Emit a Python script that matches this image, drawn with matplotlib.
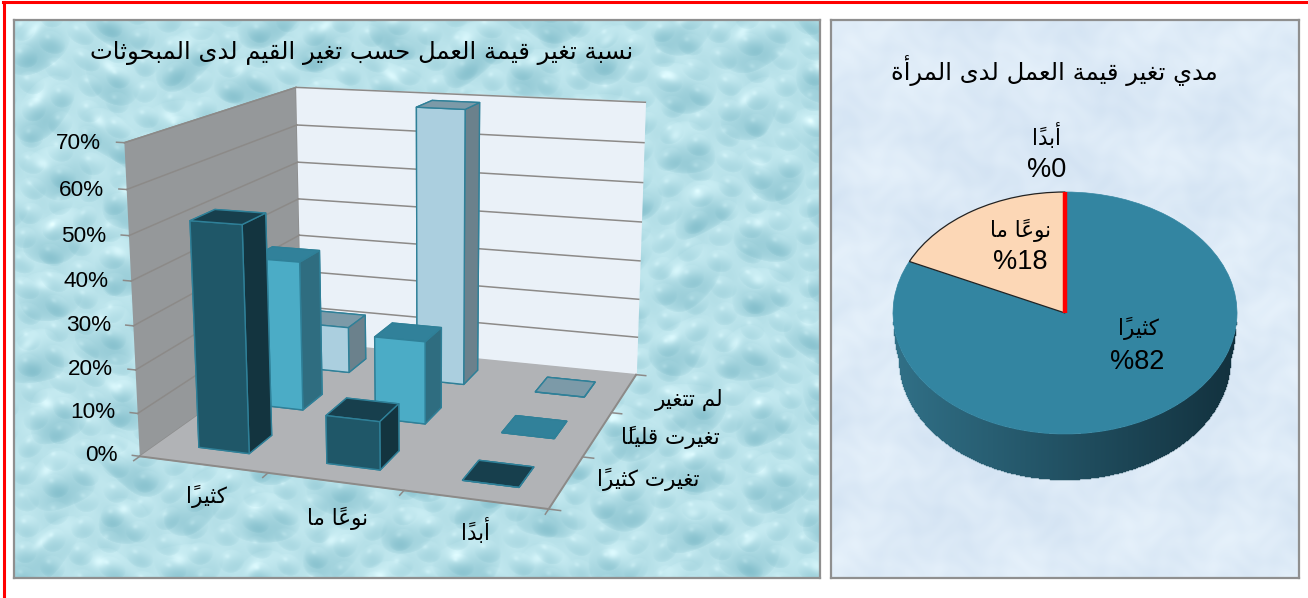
import numpy as np
import matplotlib
matplotlib.use('Agg')
import matplotlib.pyplot as plt
from matplotlib.lines import Line2D
from mpl_toolkits.mplot3d import proj3d

W, H = 1308, 598
LEFT_TITLE = "نسبة تغير قيمة العمل حسب تغير القيم لدى المبحوثات"
RIGHT_TITLE = "مدي تغير قيمة العمل لدى المرأة"
categories = ["كثيراً", "نوعاً ما", "أبداً"]
series_names = ["تغيرت كثيراً", "تغيرت قليلاً", "لم تتغير"]
changed_much = [52, 11, 0]
changed_little = [36.5, 20, 0]
unchanged = [12, 69.5, 0]
y_ticks = [0, 10, 20, 30, 40, 50, 60, 70]
pie_values = [82, 18, 0]
pie_labels = ["كثيراً", "نوعاً ما", "أبداً"]

FORMS = {'ء':(0xFE80,),'آ':(0xFE81,0xFE82),'أ':(0xFE83,0xFE84),'ؤ':(0xFE85,0xFE86),'إ':(0xFE87,0xFE88),'ا':(0xFE8D,0xFE8E),'د':(0xFEA9,0xFEAA),'ذ':(0xFEAB,0xFEAC),'ر':(0xFEAD,0xFEAE),'ز':(0xFEAF,0xFEB0),'و':(0xFEED,0xFEEE),'ة':(0xFE93,0xFE94),'ى':(0xFEEF,0xFEF0),
'ب':(0xFE8F,0xFE90,0xFE91,0xFE92),'ت':(0xFE95,0xFE96,0xFE97,0xFE98),'ث':(0xFE99,0xFE9A,0xFE9B,0xFE9C),'ج':(0xFE9D,0xFE9E,0xFE9F,0xFEA0),'ح':(0xFEA1,0xFEA2,0xFEA3,0xFEA4),'خ':(0xFEA5,0xFEA6,0xFEA7,0xFEA8),'س':(0xFEB1,0xFEB2,0xFEB3,0xFEB4),'ش':(0xFEB5,0xFEB6,0xFEB7,0xFEB8),'ص':(0xFEB9,0xFEBA,0xFEBB,0xFEBC),'ض':(0xFEBD,0xFEBE,0xFEBF,0xFEC0),'ط':(0xFEC1,0xFEC2,0xFEC3,0xFEC4),'ظ':(0xFEC5,0xFEC6,0xFEC7,0xFEC8),'ع':(0xFEC9,0xFECA,0xFECB,0xFECC),'غ':(0xFECD,0xFECE,0xFECF,0xFED0),'ف':(0xFED1,0xFED2,0xFED3,0xFED4),'ق':(0xFED5,0xFED6,0xFED7,0xFED8),'ك':(0xFED9,0xFEDA,0xFEDB,0xFEDC),'ل':(0xFEDD,0xFEDE,0xFEDF,0xFEE0),'م':(0xFEE1,0xFEE2,0xFEE3,0xFEE4),'ن':(0xFEE5,0xFEE6,0xFEE7,0xFEE8),'ه':(0xFEE9,0xFEEA,0xFEEB,0xFEEC),'ي':(0xFEF1,0xFEF2,0xFEF3,0xFEF4)}
MARK = '\u064b'

def shape(text):
    """Join Arabic letters into presentation forms and lay them out left to right."""
    base, marked, k = [], set(), -1
    for c in text:
        if c == MARK:
            marked.add(k)
        else:
            base.append(c); k += 1
    out = []
    for i, c in enumerate(base):
        if c not in FORMS:
            out.append(c); continue
        prev = base[i-1] if i else ' '
        nxt = base[i+1] if i+1 < len(base) else ' '
        pj = prev in FORMS and len(FORMS[prev]) == 4
        nj = nxt in FORMS
        f = FORMS[c]
        if len(f) == 4:
            g = f[(2 if nj else 0) + (1 if pj else 0)]
        elif len(f) == 2:
            g = f[1 if pj else 0]
        else:
            g = f[0]
        out.append(chr(g) + (MARK if i in marked else ''))
    return ''.join(reversed(out))

AR = ['DejaVu Sans']
LAT = ['Liberation Sans', 'DejaVu Sans']

def drop_layer(xx, yy, sx, sy, phase):
    u = xx/sx + .16*np.sin(yy/41 + phase) + .10*np.sin(yy/17 + xx/53)
    v = yy/sy + .16*np.sin(xx/37 + phase) + .10*np.sin(xx/23 - yy/61)
    v = v + .5*np.floor(u)
    fu, fv = u % 1 - .5, v % 1 - .5
    r = np.sqrt(fu**2 + fv**2)
    drop = np.clip(1 - r/.44, 0, 1)**.5
    return drop*(-fv*1.5 - .25) + .35*np.exp(-((fu+.12)**2 + (fv+.2)**2)/.008)

def drops(w, h):
    """Procedural droplet pattern for the left panel."""
    yy, xx = np.mgrid[0:h, 0:w].astype(float)
    shade = drop_layer(xx, yy, 71, 63, 0.0) + .55*drop_layer(xx, yy, 29, 26, 1.7)
    shade += .04*np.sin(xx/9 + yy/13) + .03*np.sin(xx/5.3 - yy/7.1)
    base = np.array([.73, .89, .92])
    amp = np.array([.30, .20, .17])
    return np.clip(base + shade[..., None]*amp, 0, 1)

def paper(w, h):
    """Soft mottled pattern for the right panel."""
    yy, xx = np.mgrid[0:h, 0:w].astype(float)
    n = (np.sin(xx/31 + 2*np.sin(yy/47)) * np.sin(yy/23 + 2*np.sin(xx/59)) +
         .45*np.sin(xx/7.3 + 1.5*np.sin(yy/9.1)) * np.sin(yy/6.1 + 1.5*np.sin(xx/8.7)))
    base = np.array([.865, .918, .968])
    return np.clip(base + n[..., None]*np.array([.024, .018, .010]), 0, 1)

fig = plt.figure(figsize=(W/100, H/100), dpi=100, facecolor='white')

def px_rect(x0, y0, x1, y1):
    return [x0/W, 1 - y1/H, (x1-x0)/W, (y1-y0)/H]

def panel(x0, y0, x1, y1, img):
    a = fig.add_axes(px_rect(x0, y0, x1, y1), zorder=0)
    a.imshow(img, aspect='auto', interpolation='bilinear')
    a.set_xticks([]); a.set_yticks([])
    for s in a.spines.values():
        s.set_color('#8f8f8f'); s.set_linewidth(1.6)
    return a

panel(14, 20, 820, 578, drops(806, 558))
panel(831, 20, 1299, 578, paper(468, 558))

def ftext(x, y, s, **kw):
    fig.text(x/W, 1 - y/H, s, ha='center', va='center', color='black', zorder=20, **kw)

ftext(362, 53, shape(LEFT_TITLE), fontsize=17.5, family=AR)
ftext(1054, 70, shape(RIGHT_TITLE), fontsize=17.5, family=AR)

# --- 3D column chart
L = 617.5
ax = fig.add_axes([88.49/W, 10.73/H, L/W, L/H], projection='3d', zorder=5)
ax.patch.set_alpha(0)
ax.set_xlim(0, 3); ax.set_ylim(0, 3); ax.set_zlim(0, 70)
ax.set_proj_type('persp', focal_length=0.4664)
ax.view_init(elev=14.24, azim=-70.80, roll=0.253)
ax.set_box_aspect((1.3385, 1.3266, 1.0108))
ax.computed_zorder = False
ax.grid(False)
ax.set_xticks([]); ax.set_yticks([]); ax.set_zticks([])
PANES = ((ax.xaxis, '#95989a', '#8c8c8c'), (ax.yaxis, '#eaf1f8', '#eaf1f8'), (ax.zaxis, '#b1b3b6', '#b1b3b6'))
for a, fill, edge in PANES:
    a.set_pane_color(fill)
    a.pane.set_edgecolor(edge)
    a.pane.set_linewidth(1.0)
    a.line.set_color((0, 0, 0, 0))

def label3d(x, y, z, s, **kw):
    """Text anchored at a data position, placed through the axes' own projection."""
    px, py, _ = proj3d.proj_transform(x, y, z, ax.get_proj())
    ax.text2D(px, py, s, transform=ax.transData, zorder=20, clip_on=False, **kw)

GRID = '#8c8a88'
for t in y_ticks:
    if t:
        ax.plot([0, 0], [0, 3], [t, t], color=GRID, lw=1.1, zorder=1)
        ax.plot([0, 3], [3, 3], [t, t], color=GRID, lw=1.1, zorder=1)
    ax.plot([0, -0.06], [0, 0], [t, t], color=GRID, lw=1.1, zorder=1)
    label3d(-0.18, 0, t - .5, f'{t}%', ha='right', va='center', fontsize=16.2, family=LAT)
ax.plot([0, 3], [0, 0], [0, 0], color=GRID, lw=1.4, zorder=1)
ax.plot([3, 3], [0, 3], [0, 0], color=GRID, lw=1.4, zorder=1)
for i in range(4):
    ax.plot([i, i], [0, -0.09], [0, 0], color=GRID, lw=1.1, zorder=1)
    ax.plot([3, 3.08], [i, i], [0, 0], color=GRID, lw=1.1, zorder=1)

CAT_LABEL_X = (.78, 1.75, 2.65)
CAT_LABEL_Y = (-.52, -.59, -.50)
for c, lx, ly in zip(categories, CAT_LABEL_X, CAT_LABEL_Y):
    label3d(lx, ly, 0, shape(c), ha='center', va='center', fontsize=15.5, family=AR)
for j, s in enumerate(series_names):
    label3d(3.52, j + .72 - .115*j, 0, shape(s), ha='center', va='center', fontsize=15.5, family=AR)

series = [changed_much, changed_little, unchanged]
#          bottom     top        front      back       left       right
FACES = [('#173f4d', '#173f4d', '#1f5768', '#1f5768', '#13343f', '#13343f'),
         ('#31819a', '#31819a', '#4bacc6', '#4bacc6', '#2f6d80', '#2f6d80'),
         ('#7c9aa8', '#7c9aa8', '#abcfdf', '#abcfdf', '#6b818c', '#6b818c')]
BW, BD = 0.40, 0.40
for j in (2, 1, 0):
    for i, v in enumerate(series[j]):
        ax.bar3d(i + .52 - BW/2, j + .5 - BD/2, 0, BW, BD, v, color=list(FACES[j]),
                 edgecolor='#2f8098', linewidth=1.0, shade=False, zorder=10 + (2 - j)*5 + i)

# --- pie
PX0, PX1, PY0, PY1 = 893, 1237, 192, 434
pa = fig.add_axes(px_rect(PX0, PY0, PX1, PY1), zorder=5)
DEPTH = 46/121
BOTTOM_RX = .965
xs = np.linspace(-1, 1, 345)
lo, hi = np.array([.19, .44, .53]), np.array([.07, .19, .24])
for a, b in zip(xs[:-1], xs[1:]):
    m = (a + b)/2
    f = np.clip((m + 1)/2, 0, 1)
    top = -np.sqrt(1 - m**2)
    if abs(m) < BOTTOM_RX:
        low = -DEPTH - np.sqrt(1 - (m/BOTTOM_RX)**2)
    else:
        g = (abs(m) - BOTTOM_RX)/(1 - BOTTOM_RX)
        low = -DEPTH*(1 - g) + top*g
    pa.fill_between([a, b], [top, top], [low, low], color=lo + (hi - lo)*f, lw=0.3, clip_on=False)
wedges, _ = pa.pie(pie_values, startangle=90, counterclock=False, radius=1, center=(0, 0),
                   colors=['#3385a1', '#fcd7b6', '#ff0000'], frame=False, normalize=True)
wedges[0].set_edgecolor('#3385a1'); wedges[0].set_linewidth(0.5)
wedges[1].set_edgecolor('#222222'); wedges[1].set_linewidth(0.9)
wedges[2].set_edgecolor('#ff0000'); wedges[2].set_linewidth(3.2)
pa.set_aspect('auto'); pa.set_xlim(-1, 1); pa.set_ylim(-1, 1); pa.axis('off')
for w in wedges:
    w.set_clip_on(False)

ftext(1138, 328, shape(pie_labels[0]), fontsize=15.5, family=AR)
ftext(1137, 362, f'%{pie_values[0]}', fontsize=19.5, family=LAT)
ftext(1020, 230, shape(pie_labels[1]), fontsize=15.5, family=AR)
ftext(1020, 262, f'%{pie_values[1]}', fontsize=19.5, family=LAT)
ftext(1047, 136, shape(pie_labels[2]), fontsize=15.5, family=AR)
ftext(1047, 170, f'%{pie_values[2]}', fontsize=19.5, family=LAT)

# red frame at the top and left of the picture
fig.add_artist(Line2D([4/W, 4/W], [0, 1 - 2/H], color='#ff0000', lw=2.2, zorder=30))
fig.add_artist(Line2D([3/W, 1], [1 - 2/H, 1 - 2/H], color='#ff0000', lw=2.2, zorder=30))

fig.savefig('out.png', dpi=100)
